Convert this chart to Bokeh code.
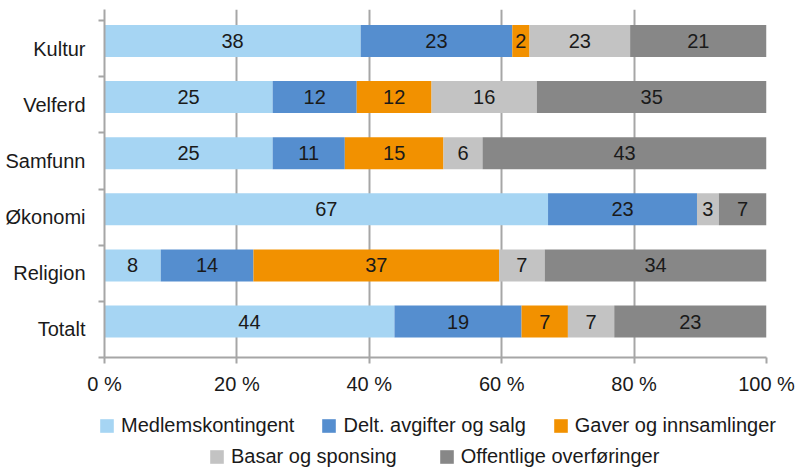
from bokeh.plotting import figure
from bokeh.layouts import column
from bokeh.models import (ColumnDataSource, Range1d, FixedTicker, PrintfTickFormatter,
                          Legend, LegendItem)
from bokeh.core.properties import value
from bokeh.embed import file_html
from bokeh.resources import INLINE

# ---- data (top to bottom as in the chart) ----
categories = ["Kultur", "Velferd", "Samfunn", "Økonomi", "Religion", "Totalt"]
series = ["Medlemskontingent", "Delt. avgifter og salg", "Gaver og innsamlinger",
          "Basar og sponsing", "Offentlige overføringer"]
medlem = [38.7, 25.4, 25.4, 67.0, 8.5, 43.8]
delt = [22.9, 12.7, 10.9, 22.5, 14.0, 19.2]
gaver = [2.6, 11.3, 14.9, 0.0, 37.1, 7.0]
basar = [15.2, 15.9, 5.9, 3.3, 6.9, 7.0]
offentlige = [20.6, 34.7, 42.9, 7.2, 33.5, 23.0]
medlem_lbl = ["38", "25", "25", "67", "8", "44"]
delt_lbl = ["23", "12", "11", "23", "14", "19"]
gaver_lbl = ["2", "12", "15", "", "37", "7"]
basar_lbl = ["23", "16", "6", "3", "7", "7"]
off_lbl = ["21", "35", "43", "7", "34", "23"]
x_ticks = [0, 20, 40, 60, 80, 100]

colors = ["#A6D5F3", "#558ECF", "#F29100", "#C3C3C3", "#878787"]
FONT = "Liberation Sans"
TXT = "#1a1a1a"
GRID = "#A6A6A6"
FS = "20px"

values = [medlem, delt, gaver, basar, offentlige]
labels = [medlem_lbl, delt_lbl, gaver_lbl, basar_lbl, off_lbl]

n = len(categories)
ypos = [n - 1 - i + 0.64 for i in range(n)]
cat_centers = {n - 1 - i + 0.5: c for i, c in enumerate(categories)}

p = figure(width=796, height=400, output_backend="svg", toolbar_location=None,
           x_range=Range1d(0, 100), y_range=Range1d(0, 6.2),
           min_border_left=104, min_border_right=30, min_border_top=9,
           min_border_bottom=43)
p.frame_align = False
p.outline_line_color = None
p.background_fill_color = "white"
p.border_fill_color = "white"

left = [0.0] * n
for vals, lbls, col in zip(values, labels, colors):
    right = [l + v for l, v in zip(left, vals)]
    src = ColumnDataSource(dict(y=ypos, left=left, right=right))
    p.hbar(y="y", left="left", right="right", height=0.57, source=src,
           fill_color=col, line_color=None)
    tsrc = ColumnDataSource(dict(x=[(l + rr) / 2 for l, rr in zip(left, right)],
                                 y=ypos, t=lbls))
    p.text(x="x", y="y", text="t", source=tsrc, text_align="center",
           text_baseline="middle", text_font=value(FONT), text_font_size=FS,
           text_color=TXT)
    left = right

# axes
p.xaxis.ticker = FixedTicker(ticks=x_ticks)
p.xaxis.formatter = PrintfTickFormatter(format="%d %%")
p.xaxis.axis_line_color = GRID
p.xaxis.axis_line_width = 2
p.xaxis.major_tick_line_color = GRID
p.xaxis.major_tick_line_width = 2
p.xaxis.major_tick_out = 6
p.xaxis.major_tick_in = 0
p.xaxis.minor_tick_line_color = None
p.xaxis.major_label_standoff = 9
p.xaxis.major_label_text_font = FONT
p.xaxis.major_label_text_font_size = FS
p.xaxis.major_label_text_color = TXT

p.yaxis.ticker = FixedTicker(ticks=sorted(cat_centers.keys()),
                             minor_ticks=[0, 1, 2, 3, 4, 5, 6])
p.yaxis.major_label_overrides = cat_centers
p.yaxis.axis_line_color = GRID
p.yaxis.axis_line_width = 2
p.yaxis.major_tick_line_color = None
p.yaxis.major_tick_out = 0
p.yaxis.major_tick_in = 0
p.yaxis.minor_tick_line_color = GRID
p.yaxis.minor_tick_line_width = 2
p.yaxis.minor_tick_out = 6
p.yaxis.minor_tick_in = 0
p.yaxis.major_label_standoff = 13
p.yaxis.major_label_text_font = FONT
p.yaxis.major_label_text_font_size = FS
p.yaxis.major_label_text_color = TXT

p.ygrid.grid_line_color = None
p.xgrid.ticker = FixedTicker(ticks=x_ticks)
p.xgrid.grid_line_color = GRID
p.xgrid.grid_line_width = 2

# ---- legend strip (separate figure below the chart) ----
q = figure(width=796, height=68, output_backend="svg", toolbar_location=None,
           x_range=Range1d(0, 1), y_range=Range1d(0, 1),
           x_axis_type=None, y_axis_type=None,
           min_border_left=0, min_border_right=0, min_border_top=0, min_border_bottom=0)
q.frame_align = False
q.outline_line_color = None
q.grid.visible = False
q.border_fill_color = "white"

leg_renderers = []
for col in colors:
    # swatch renderers placed outside the visible range; only used by the legend
    leg_renderers.append(q.rect(x=[-5], y=[-5], width=1, height=1, fill_color=col,
                                line_color=None))

def make_legend(idx, loc, spacing):
    return Legend(items=[LegendItem(label=series[i], renderers=[leg_renderers[i]]) for i in idx],
                  orientation="horizontal", location=loc,
                  glyph_width=17, glyph_height=17, label_standoff=6, spacing=spacing,
                  label_height=17,
                  label_text_font=FONT, label_text_font_size=FS,
                  label_text_color=TXT, border_line_color=None,
                  background_fill_alpha=0, padding=0, margin=0)

q.add_layout(make_legend([0, 1, 2], (98, 31), 26), "center")
q.add_layout(make_legend([3, 4], (208, 0), 41), "center")

open("out.html", "w").write(file_html(column(p, q), INLINE))
